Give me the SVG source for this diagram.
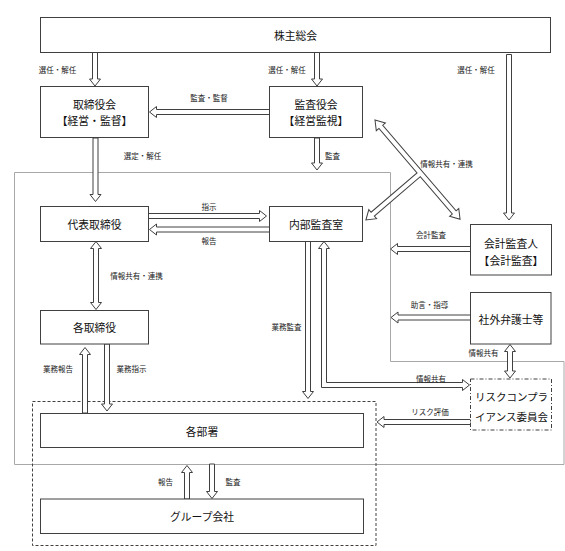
<svg xmlns="http://www.w3.org/2000/svg" width="565" height="551" viewBox="0 0 565 551">
<style>
.box{fill:#fff;stroke:#404040;stroke-width:1}
.arr{fill:#fff;stroke:#404040;stroke-width:1;stroke-linejoin:miter}
.t{font-family:"Noto Sans CJK JP","Noto Sans",sans-serif;font-size:10.8px;fill:#111;text-anchor:middle;dominant-baseline:central}
.l{font-family:"Noto Sans CJK JP","Noto Sans",sans-serif;font-size:7.5px;fill:#222;text-anchor:middle;dominant-baseline:central}
</style>
<rect width="565" height="551" fill="#fff"/>
<g id="regions">
<polygon points="14.5,172.5 390.5,172.5 390.5,361.5 564,361.5 564,464.5 14.5,464.5" fill="none" stroke="#a8a8a8" stroke-width="1"/>
<rect x="32.5" y="401.5" width="343.5" height="144" fill="none" stroke="#404040" stroke-width="1" stroke-dasharray="3,2"/>
</g>
<g id="connectors">
<polygon class="arr" points="92.5,52.5 97.5,52.5 97.5,79 100.5,79 95,86 89.5,79 92.5,79"/>
<polygon class="arr" points="314.5,52.5 319.5,52.5 319.5,79 322.5,79 317,86 311.5,79 314.5,79"/>
<polygon class="arr" points="506.5,54.5 511.5,54.5 511.5,213 514.5,213 509,220 503.5,213 506.5,213"/>
<polygon class="arr" points="269.5,109.5 269.5,114.5 156.5,114.5 156.5,117.5 149.5,112 156.5,106.5 156.5,109.5"/>
<polygon class="arr" points="93,138 98,138 98,194.5 101,194.5 95.5,201.5 90,194.5 93,194.5"/>
<polygon class="arr" points="314.5,138 319.5,138 319.5,163 322.5,163 317,170 311.5,163 314.5,163"/>
<polygon class="arr" points="148.5,213.5 259.5,213.5 259.5,210.5 266.5,216 259.5,221.5 259.5,218.5 148.5,218.5"/>
<polygon class="arr" points="269.5,227 156.5,227 156.5,224 149.5,229.5 156.5,235 156.5,232 269.5,232"/>
<polygon class="arr" points="96,241.5 101.5,248.5 98.5,248.5 98.5,302.5 101.5,302.5 96,309.5 90.5,302.5 93.5,302.5 93.5,248.5 90.5,248.5"/>
<polygon class="arr" points="85,347.5 90.5,354.5 87.5,354.5 87.5,413 82.5,413 82.5,354.5 79.5,354.5"/>
<polygon class="arr" points="104.5,344 109.5,344 109.5,404 112.5,404 107,411 101.5,404 104.5,404"/>
<polygon class="arr" points="305.5,241.5 310.5,241.5 310.5,391.5 313.5,391.5 308,398.5 302.5,391.5 305.5,391.5"/>
<polygon class="arr" points="324,241.5 329.5,248.5 326.5,248.5 326.5,382.5 462.5,382.5 462.5,379.5 469.5,385 462.5,390.5 462.5,387.5 321.5,387.5 321.5,248.5 318.5,248.5"/>
<polygon class="arr" points="470.5,246.5 397.5,246.5 397.5,243.5 390.5,249 397.5,254.5 397.5,251.5 470.5,251.5"/>
<polygon class="arr" points="470.5,315 398,315 398,312 391,317.5 398,323 398,320 470.5,320"/>
<polygon class="arr" points="510,344.5 515.5,351.5 512.5,351.5 512.5,371 515.5,371 510,378 504.5,371 507.5,371 507.5,351.5 504.5,351.5"/>
<polygon class="arr" points="470.5,419.5 384,419.5 384,416.5 377,422 384,427.5 384,424.5 470.5,424.5"/>
<polygon class="arr" points="187,465.5 192.5,472.5 189.5,472.5 189.5,499 184.5,499 184.5,472.5 181.5,472.5"/>
<polygon class="arr" points="209.5,464 214.5,464 214.5,491.5 217.5,491.5 212,498.5 206.5,491.5 209.5,491.5"/>
<polygon class="arr" transform="translate(375,120) rotate(49.4)" points="0,0 9,-6 9,-2.5 121.7,-2.5 121.7,-6 130.7,0 121.7,6 121.7,2.5 72.5,2.5 72.5,63 76,63 70,72 64,63 67.5,63 67.5,2.5 9,2.5 9,6"/>
</g>
<g id="labels">
<text class="l" x="57.5" y="69.5">選任・解任</text>
<text class="l" x="287" y="69.5">選任・解任</text>
<text class="l" x="476" y="69.5">選任・解任</text>
<text class="l" x="209" y="97">監査・監督</text>
<text class="l" x="142.5" y="155">選定・解任</text>
<text class="l" x="332.5" y="155">監査</text>
<text class="l" x="446.5" y="163.5">情報共有・連携</text>
<text class="l" x="209" y="206.5">指示</text>
<text class="l" x="209" y="240">報告</text>
<text class="l" x="431" y="234.5">会計監査</text>
<text class="l" x="136.5" y="275.5">情報共有・連携</text>
<text class="l" x="429.5" y="304.5">助言・指導</text>
<text class="l" x="286.5" y="326.5">業務監査</text>
<text class="l" x="483.5" y="352.5">情報共有</text>
<text class="l" x="58" y="368.5">業務報告</text>
<text class="l" x="131.5" y="368.5">業務指示</text>
<text class="l" x="431" y="378.5">情報共有</text>
<text class="l" x="430" y="411.5">リスク評価</text>
<text class="l" x="165.5" y="481.5">報告</text>
<text class="l" x="233" y="481.5">監査</text>
</g>
<g id="n-kabunushi">
<rect class="box" x="40.5" y="17.5" width="510" height="35"/>
<text class="t" x="295.5" y="35">株主総会</text>
</g>
<g id="n-torishimariyakukai">
<rect class="box" x="40.5" y="86.5" width="108" height="51"/>
<text class="t" x="94.5" y="103.5">取締役会</text>
<text class="t" x="94.5" y="120">【経営・監督】</text>
</g>
<g id="n-kansayakukai">
<rect class="box" x="269.5" y="86.5" width="93" height="51"/>
<text class="t" x="316" y="103.5">監査役会</text>
<text class="t" x="316" y="119.5">【経営監視】</text>
</g>
<g id="n-daihyo">
<rect class="box" x="40.5" y="206.5" width="108" height="35"/>
<text class="t" x="94.5" y="224">代表取締役</text>
</g>
<g id="n-naibukansa">
<rect class="box" x="269.5" y="206.5" width="93" height="35"/>
<text class="t" x="316" y="224">内部監査室</text>
</g>
<g id="n-kaikeikansanin">
<rect class="box" x="470.5" y="224.5" width="81" height="50.5"/>
<text class="t" x="511" y="242.5">会計監査人</text>
<text class="t" x="511" y="259.5">【会計監査】</text>
</g>
<g id="n-kaku-torishimariyaku">
<rect class="box" x="40.5" y="310.5" width="108" height="33.5"/>
<text class="t" x="94.5" y="327">各取締役</text>
</g>
<g id="n-bengoshi">
<rect class="box" x="470.5" y="292.5" width="80.5" height="51.5"/>
<text class="t" x="511" y="318.5">社外弁護士等</text>
</g>
<g id="n-risk">
<rect x="470.5" y="379" width="81" height="51" fill="#fff" stroke="#404040" stroke-width="1" stroke-dasharray="4,2,1,2"/>
<text class="t" x="511.5" y="396" style="font-size:10.5px">リスクコンプラ</text>
<text class="t" x="511.5" y="416.5" style="font-size:10.5px">イアンス委員会</text>
</g>
<g id="n-kakubusho">
<rect class="box" x="40.5" y="413.5" width="323" height="34"/>
<text class="t" x="202" y="430.5">各部署</text>
</g>
<g id="n-group">
<rect class="box" x="40.5" y="499" width="323" height="34.5"/>
<text class="t" x="202" y="516">グループ会社</text>
</g>
</svg>
